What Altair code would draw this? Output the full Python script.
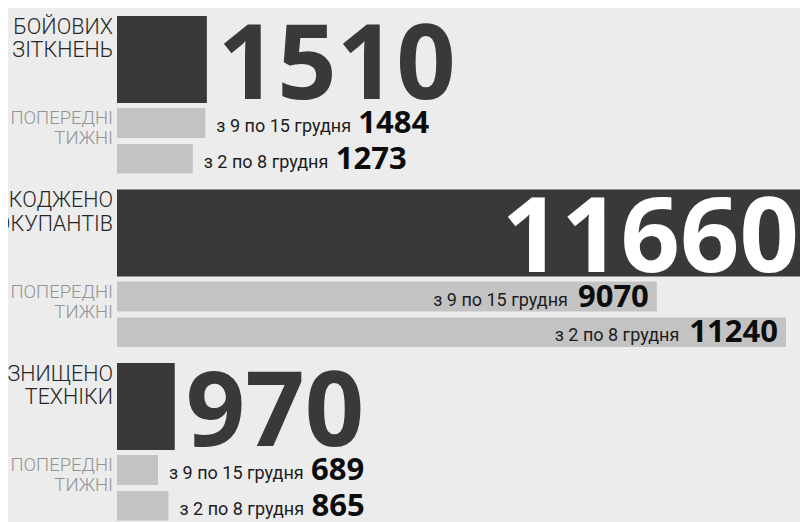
import altair as alt
import pandas as pd

# ---------------- data ----------------
categories = [["БОЙОВИХ", "ЗІТКНЕНЬ"], ["ЗНЕШКОДЖЕНО", "ОКУПАНТІВ"], ["ЗНИЩЕНО", "ТЕХНІКИ"]]
this_week = [1510, 11660, 970]
week_9_15 = [1484, 9070, 689]
week_2_8 = [1273, 11240, 865]
period_labels = ["з 9 по 15 грудня", "з 2 по 8 грудня"]
previous_label = ["ЗА ПОПЕРЕДНІ", "ТИЖНІ"]

# ---------------- layout (page pixels) ----------------
PAGE = 8
W, H = 808 - 2 * PAGE, 522 - PAGE
X0, X1 = 117, 811                 # pixel of value 0 and of the largest value
SEC_TOP, SEC_PITCH = 16, 173.5
ROWS = {"main": (0, 87), "p1": (92, 122), "p2": (128, 157.5)}
DARK, LIGHT, BG = "#393939", "#c3c3c3", "#ececec"
NUM_FONT = "Open Sans"
TXT_FONT = "Roboto"
BIG, SMALL_NUM, SMALL_TXT = 104, 31, 18
DIGIT_W = 0.572 * SMALL_NUM
NUM_DX_OUT = {0: 153, 1: 143}      # gap from bar end to the bold number (outside bars)

VMAX = max(this_week + week_9_15 + week_2_8)

rows = []
for i, cat in enumerate(categories):
    for kind, val, per in (("main", this_week[i], None),
                           ("p1", week_9_15[i], 0),
                           ("p2", week_2_8[i], 1)):
        top = SEC_TOP + i * SEC_PITCH + ROWS[kind][0] - PAGE
        bottom = SEC_TOP + i * SEC_PITCH + ROWS[kind][1] - PAGE
        inside = val > VMAX * 0.5
        r = dict(sec=i, kind=kind, value=val, txt=str(val), start=0,
                 top=top, bottom=bottom, inside=inside,
                 cat="\n".join(cat), prev="\n".join(previous_label),
                 period=(period_labels[per] if per is not None else ""))
        if per is not None:
            if inside:
                r["align"] = "right"
                r["dx_num"] = -8
                r["dx_date"] = -8 - len(str(val)) * DIGIT_W - 10
            else:
                r["align"] = "left"
                r["dx_num"] = NUM_DX_OUT[per]
                r["dx_date"] = 11
            r["grp"] = f"{r['align']}_{r['dx_num']}_{r['dx_date']:.1f}"
        rows.append(r)

df = pd.DataFrame(rows)
main = df[df.kind == "main"]
prev = df[df.kind != "main"].copy()

xs = alt.Scale(domain=[0, VMAX], range=[X0 - PAGE, X1 - PAGE])
ys = alt.Scale(domain=[0, H], range=[0, H])


def X(f):
    return alt.X(f, type="quantitative", scale=xs, axis=None)


def Y(f):
    return alt.Y(f, type="quantitative", scale=ys, axis=None)


bars = alt.Chart(df).mark_rect().encode(
    x=X("start"), x2="value:Q", y=Y("top"), y2="bottom:Q",
    color=alt.Color("kind:N", scale=alt.Scale(domain=["main", "p1", "p2"],
                                              range=[DARK, LIGHT, LIGHT]), legend=None),
)

cat_labels = alt.Chart(main).mark_text(
    font=TXT_FONT, fontSize=21.5, fontWeight=300, lineHeight=23.5, lineBreak="\n",
    align="right", baseline="alphabetic", dx=-4, dy=17.5, color="#262626",
).encode(x=X("start"), y=Y("top"), text="cat:N")

prev_labels = alt.Chart(df[df.kind == "p1"]).mark_text(
    font=TXT_FONT, fontSize=18.5, fontWeight=300, lineHeight=20, lineBreak="\n",
    align="right", baseline="alphabetic", dx=-4, dy=16, color="#939393",
).encode(x=X("start"), y=Y("top"), text="prev:N")

big_out = alt.Chart(main[~main.inside]).mark_text(
    font=NUM_FONT, fontWeight="bold", fontSize=BIG, align="left", baseline="alphabetic",
    dx=11, dy=-4, color=DARK,
).encode(x=X("value"), y=Y("bottom"), text="txt:N")

big_in = alt.Chart(main[main.inside]).mark_text(
    font=NUM_FONT, fontWeight="bold", fontSize=BIG, align="right", baseline="alphabetic",
    dx=-12, dy=-5, color="#ffffff",
).encode(x=X("value"), y=Y("bottom"), text="txt:N")

layers = [bars, cat_labels, prev_labels, big_out, big_in]

for g, sub in prev.groupby("grp"):
    r0 = sub.iloc[0]
    layers.append(alt.Chart(sub).mark_text(
        font=TXT_FONT, fontSize=SMALL_TXT, align=r0["align"], baseline="alphabetic",
        dx=float(r0["dx_date"]), dy=-6, color="#1c1c1c",
    ).encode(x=X("value"), y=Y("bottom"), text="period:N"))
    layers.append(alt.Chart(sub).mark_text(
        font=NUM_FONT, fontWeight="bold", fontSize=SMALL_NUM, align=r0["align"],
        baseline="alphabetic", dx=float(r0["dx_num"]), dy=-5, color="#0c0c0c",
    ).encode(x=X("value"), y=Y("bottom"), text="txt:N"))

chart = alt.layer(*layers).properties(
    width=W, height=H, autosize=alt.AutoSizeParams(type="none"), padding=0,
    background=BG,
).configure_view(stroke=None)

chart.save("out.html", embed_options={"renderer": "svg", "actions": False})
